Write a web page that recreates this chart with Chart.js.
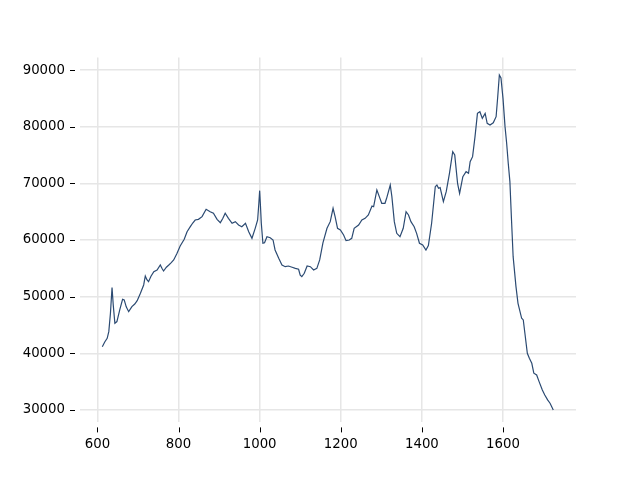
<!DOCTYPE html>
<html>
<head>
<meta charset="utf-8">
<script src="https://cdn.jsdelivr.net/npm/chart.js@4/dist/chart.umd.min.js"></script>
<style>
  html, body { margin: 0; padding: 0; background: #fff; }
  #myChart { display: block; }
</style>
</head>
<body>
<canvas id="myChart" width="640" height="480"></canvas>
<script>
// spectrum: position / intensity
var positions = [612, 618, 624, 628, 632, 636, 639, 643, 648, 655, 662, 666, 671, 677, 685, 692, 698,
    706, 714, 718, 722, 726, 732, 739, 747, 755, 759, 763, 770, 776, 782, 788, 796,
    804, 814, 821, 829, 835, 841, 849, 858, 868, 878, 886, 895, 903, 909, 915, 923,
    932, 940, 948, 956, 965, 973, 981, 989, 995, 998, 1000, 1002, 1004, 1008, 1012, 1018,
    1026, 1033, 1038, 1047, 1055, 1063, 1071, 1080, 1088, 1096, 1100, 1104, 1110, 1117,
    1125, 1133, 1141, 1148, 1156, 1166, 1174, 1181, 1186, 1192, 1199, 1207, 1213, 1221,
    1227, 1233, 1244, 1252, 1260, 1268, 1277, 1281, 1289, 1295, 1301, 1309, 1313, 1322,
    1326, 1332, 1338, 1346, 1354, 1361, 1367, 1373, 1381, 1387, 1394, 1402, 1410, 1416,
    1424, 1433, 1437, 1441, 1445, 1453, 1460, 1468, 1476, 1481, 1488, 1493, 1501, 1509,
    1515, 1519, 1525, 1531, 1537, 1543, 1549, 1556, 1561, 1568, 1576, 1583, 1587, 1591,
    1595, 1600, 1605, 1609, 1613, 1617, 1621, 1625, 1632, 1637, 1646, 1650, 1654, 1660,
    1665, 1671, 1676, 1683, 1689, 1697, 1703, 1710, 1716, 1724];
var intensity = [41170, 42000, 42650, 43820, 47000, 51600, 48500, 45300, 45600, 47650, 49540, 49420, 48200, 47350, 48230, 48700, 49290,
    50600, 52060, 53650, 53000, 52650, 53600, 54410, 54710, 55590, 55000, 54530, 55200, 55590, 56000, 56480, 57600,
    58950, 60130, 61470, 62350, 63000, 63530, 63650, 64120, 65420, 65000, 64720, 63650, 63060, 63800, 64720, 63830,
    62950, 63240, 62650, 62350, 62950, 61470, 60300, 62060, 63530, 66500, 68710, 66000, 63000, 59420, 59500, 60590,
    60400, 60000, 58240, 56770, 55590, 55290, 55410, 55190, 55000, 54830, 53800, 53530, 54120, 55410,
    55290, 54710, 55000, 56480, 59500, 62060, 63240, 65600, 64120, 62060, 61770, 60890, 59880, 60000,
    60300, 62060, 62650, 63530, 63830, 64420, 66010, 65880, 68830, 67650, 66480, 66480, 67360, 69710,
    67650, 63240, 61180, 60590, 62060, 65000, 64420, 63240, 62350, 61180, 59420, 59120, 58240, 59000,
    62950, 69410, 69710, 69120, 69240, 66770, 68530, 71770, 75590, 75010, 70000, 68240, 71180, 72060,
    71770, 73830, 74710, 78240, 82360, 82650, 81470, 82360, 80600, 80300, 80700, 81770, 85300, 89120,
    88600, 85000, 80010, 77070, 73500, 70300, 63530, 57060, 51770, 48830, 46180, 45890, 43530, 40000,
    39120, 38240, 36480, 36180, 35000, 33530, 32650, 31770, 31180, 30000];

var xTickValues = [600, 800, 1000, 1200, 1400, 1600];
var yTickValues = [30000, 40000, 50000, 60000, 70000, 80000, 90000];

var points = positions.map(function (p, i) { return { x: p, y: intensity[i] }; });

var font = { family: 'DejaVu Sans', size: 13.3 };

// small dark tick marks, pushed out from the plot like offset spines
var tickMarks = {
    id: 'tickMarks',
    afterDraw: function (chart) {
        var ctx = chart.ctx, area = chart.chartArea;
        var xs = chart.scales.x, ys = chart.scales.y;
        ctx.save();
        ctx.strokeStyle = '#000';
        ctx.lineWidth = 1;
        xTickValues.forEach(function (v) {
            var px = Math.round(xs.getPixelForValue(v)) + 0.5;
            ctx.beginPath();
            ctx.moveTo(px, area.bottom + 5);
            ctx.lineTo(px, area.bottom + 10);
            ctx.stroke();
        });
        yTickValues.forEach(function (v) {
            var py = Math.round(ys.getPixelForValue(v)) + 0.5;
            ctx.beginPath();
            ctx.moveTo(area.left - 10, py);
            ctx.lineTo(area.left - 5, py);
            ctx.stroke();
        });
        ctx.restore();
    }
};

var config = {
    type: 'line',
    data: {
        datasets: [{
            data: points,
            borderColor: '#2b4a72',
            borderWidth: 1.2,
            pointRadius: 0,
            tension: 0,
            fill: false
        }]
    },
    options: {
        responsive: false,
        animation: false,
        devicePixelRatio: 1,
        layout: { padding: { left: 0, top: 57.6, right: 64, bottom: 0 } },
        plugins: { legend: { display: false }, tooltip: { enabled: false } },
        scales: {
            x: {
                type: 'linear',
                min: 557,
                max: 1780,
                border: { display: false },
                grid: { color: '#e6e6e6', lineWidth: 1.5, drawTicks: false },
                ticks: { color: '#000', font: font, padding: 14, maxRotation: 0,
                    callback: function (v) { return String(v); } },
                afterBuildTicks: function (scale) {
                    scale.ticks = xTickValues.map(function (v) { return { value: v }; });
                },
                afterFit: function (scale) { scale.height = 57.6; }
            },
            y: {
                type: 'linear',
                min: 27800,
                max: 92200,
                border: { display: false },
                grid: { color: '#e6e6e6', lineWidth: 1.5, drawTicks: false },
                ticks: { color: '#000', font: font, padding: 15,
                    callback: function (v) { return String(v); } },
                afterBuildTicks: function (scale) {
                    scale.ticks = yTickValues.map(function (v) { return { value: v }; });
                },
                afterFit: function (scale) { scale.width = 80; }
            }
        }
    },
    plugins: [tickMarks]
};

var myChart = new Chart(document.getElementById('myChart'), config);
</script>
</body>
</html>
